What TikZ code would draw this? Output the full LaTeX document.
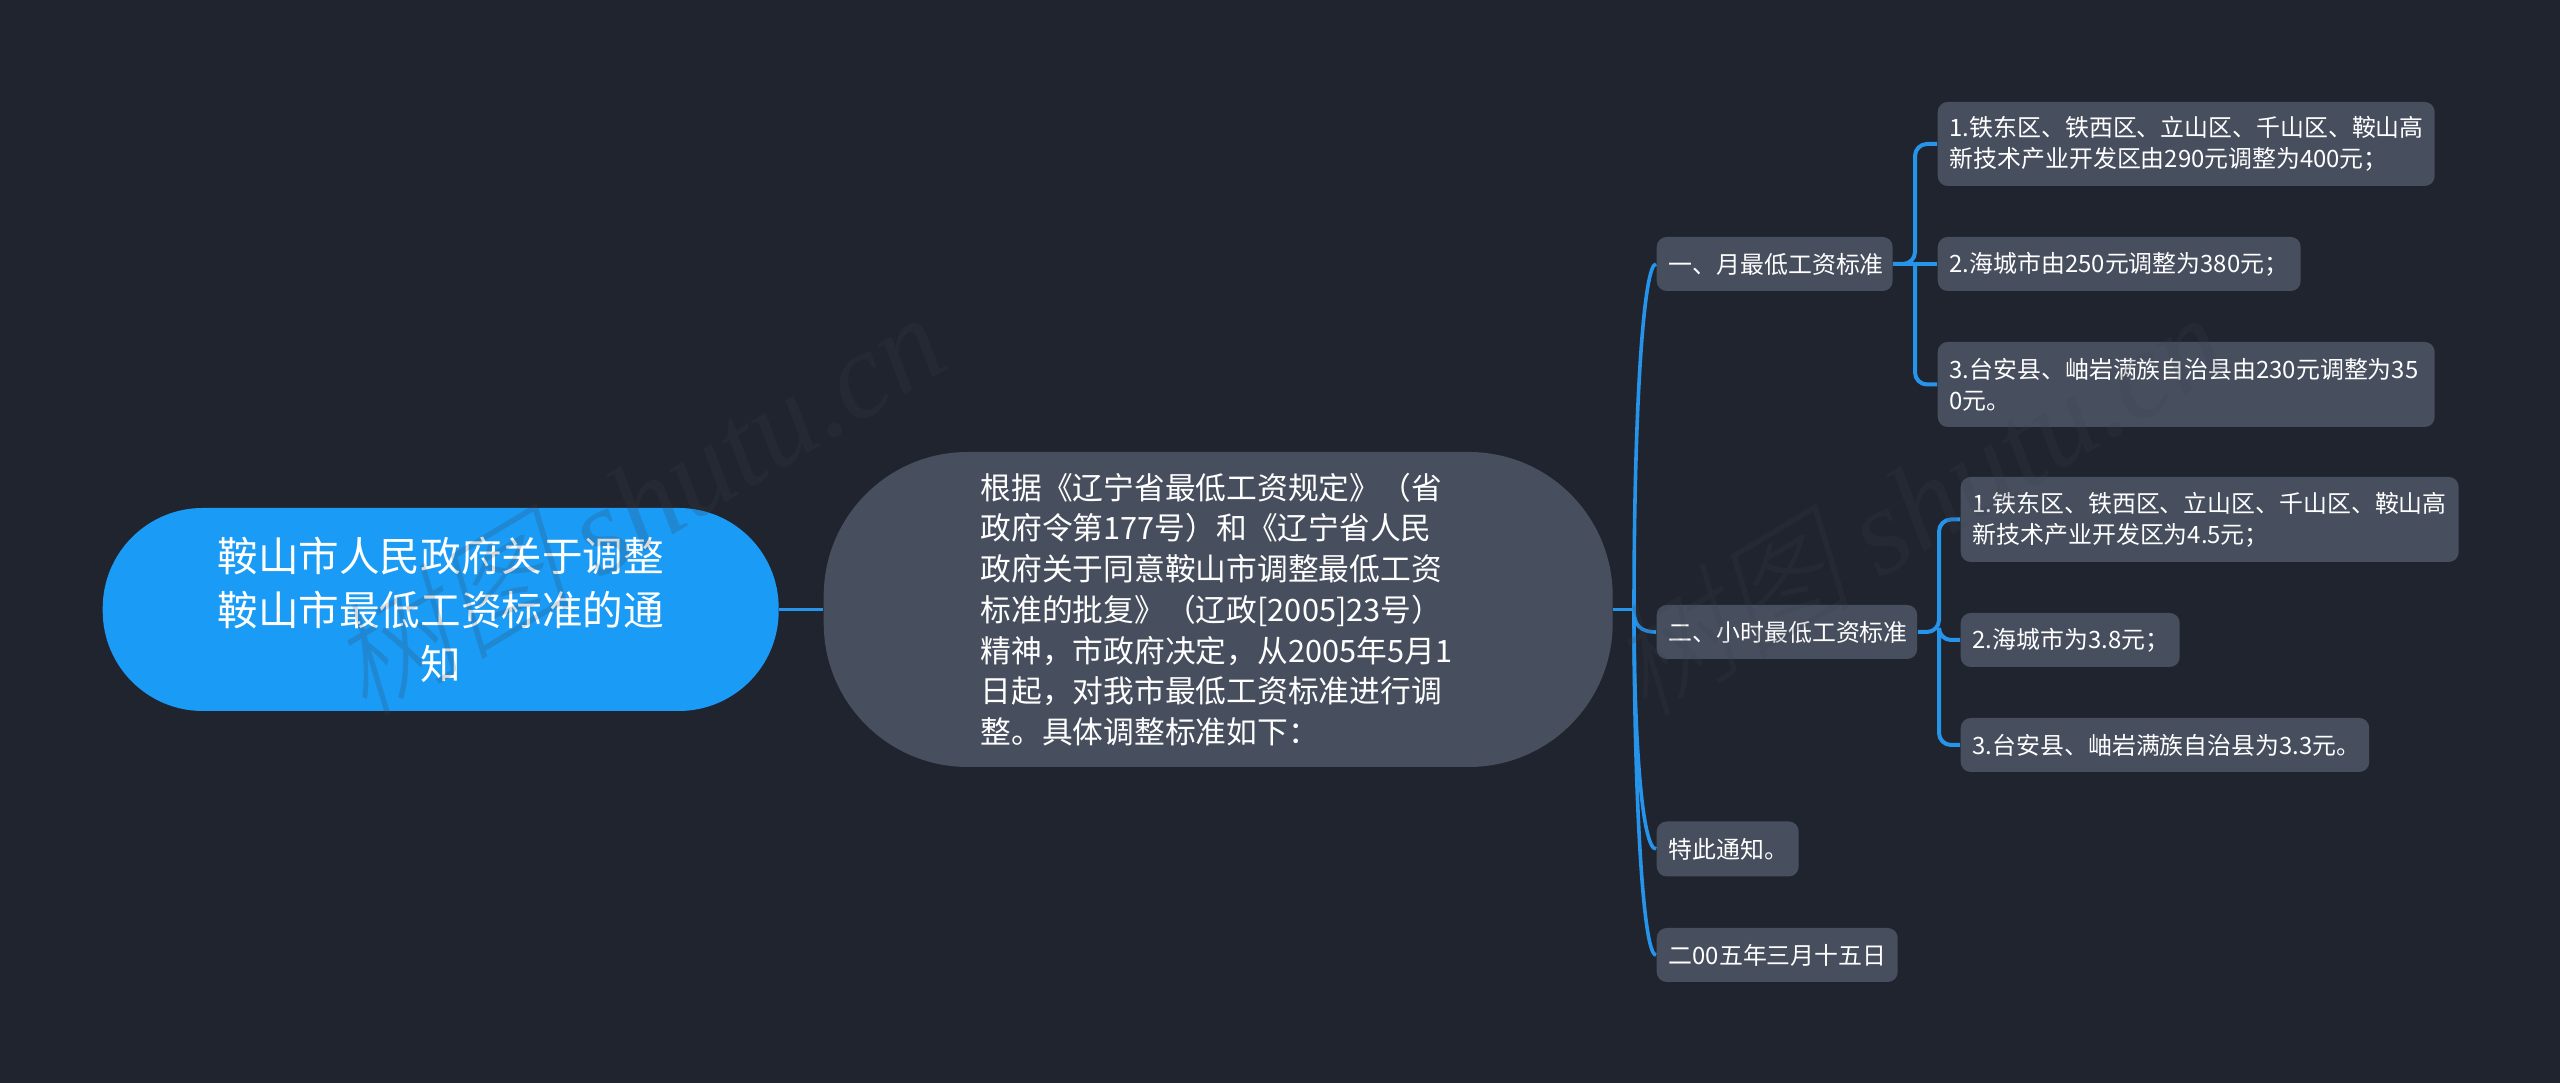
\documentclass[tikz,border=0pt]{standalone}
\usepackage{fontspec}
\setmainfont{Noto Sans CJK SC}
\newfontfamily\stampcjk[FakeSlant=0.25]{Noto Sans CJK SC Light}
\newfontfamily\stamplatin{Liberation Serif}
\definecolor{bgdark}{HTML}{20242F}
\definecolor{rootblue}{HTML}{1A9BF5}
\definecolor{boxgrey}{HTML}{474E5E}
\definecolor{linkblue}{HTML}{2594EA}
\definecolor{stampgrey}{HTML}{3A3F4A}
\tikzset{
  rootbox/.style={fill=rootblue,text=white,rounded corners=1cm,align=center,
    font=\fontsize{11.55pt}{15.4pt}\selectfont,inner sep=0pt,anchor=west},
  mainbox/.style={fill=boxgrey,text=white,rounded corners=1.44cm,align=left,
    font=\fontsize{8.75pt}{11.6pt}\selectfont,inner sep=0pt,anchor=west},
  leafbox/.style={fill=boxgrey,text=white,rounded corners=0.1cm,align=left,
    font=\fontsize{6.8pt}{8.9pt}\selectfont,inner ysep=0pt,inner xsep=0.12cm,anchor=west},
  link/.style={draw=linkblue,line width=0.04cm,rounded corners=0.12cm},
  curvelink/.style={draw=linkblue,line width=0.036cm},
  stamp/.style={font=\fontsize{35pt}{35pt}\selectfont,text=stampgrey,opacity=0.2,rotate=31,inner sep=0pt}
}
\begin{document}
\begin{tikzpicture}
  \fill[bgdark] (0,0) rectangle (25.6,10.83);
  \useasboundingbox (0,0) rectangle (25.6,10.83);

  \node[rootbox,text width=6.76cm,minimum height=2.03cm] (root) at (1.02,4.735) {鞍山市人民政府关于调整\\鞍山市最低工资标准的通\\知};
  \node[mainbox,text width=4.75cm,minimum height=3.15cm,inner xsep=1.57cm] (main) at (8.23,4.735)
    {根据《辽宁省最低工资规定》（省\\政府令第177号）和《辽宁省人民\\政府关于同意鞍山市调整最低工资\\标准的批复》（辽政[2005]23号）\\精神，市政府决定，从2005年5月1\\日起，对我市最低工资标准进行调\\整。具体调整标准如下：};

  \node[leafbox,text width=2.12cm,minimum height=0.54cm] (month) at (16.56,8.19) {一、月最低工资标准};
  \node[leafbox,text width=4.73cm,minimum height=0.84cm] (monthA) at (19.37,9.39) {1.铁东区、铁西区、立山区、千山区、鞍山高\\新技术产业开发区由290元调整为400元；};
  \node[leafbox,text width=3.39cm,minimum height=0.54cm] (monthB) at (19.37,8.19) {2.海城市由250元调整为380元；};
  \node[leafbox,text width=4.73cm,minimum height=0.85cm] (monthC) at (19.37,6.985) {3.台安县、岫岩满族自治县由230元调整为35\\0元。};

  \node[leafbox,text width=2.365cm,minimum height=0.54cm] (hour) at (16.56,4.51) {二、小时最低工资标准};
  \node[leafbox,text width=4.74cm,minimum height=0.85cm] (hourA) at (19.6,5.635) {1.铁东区、铁西区、立山区、千山区、鞍山高\\新技术产业开发区为4.5元；};
  \node[leafbox,text width=1.95cm,minimum height=0.54cm] (hourB) at (19.6,4.43) {2.海城市为3.8元；};
  \node[leafbox,text width=3.845cm,minimum height=0.54cm] (hourC) at (19.6,3.38) {3.台安县、岫岩满族自治县为3.3元。};

  \node[leafbox,text width=1.18cm,minimum height=0.55cm] (notice) at (16.56,2.34) {特此通知。};
  \node[leafbox,text width=2.17cm,minimum height=0.54cm] (datenote) at (16.56,1.28) {二00五年三月十五日};

  \coordinate (stem) at (16.34,4.735);
  \coordinate (monthfork) at (19.15,8.19);
  \coordinate (hourfork) at (19.39,4.51);

  \draw[curvelink] (root.east) -- (main.west);
  \draw[curvelink] (main.east) -- (stem);
  \draw[curvelink] (stem) .. controls (16.34,6.83) and (16.44,8.19) .. (month.west);
  \draw[curvelink] (stem) .. controls (16.34,4.58) and (16.40,4.51) .. (hour.west);
  \draw[curvelink] (stem) .. controls (16.34,3.43) and (16.42,2.34) .. (notice.west);
  \draw[curvelink] (stem) .. controls (16.34,3.03) and (16.42,1.28) .. (datenote.west);

  \draw[link] (month.east) -- (monthfork) |- (monthA.west);
  \draw[link] (month.east) -- (monthB.west);
  \draw[link] (monthfork) |- (monthC.west);

  \draw[link] (hour.east) -- (hourfork) |- (hourA.west);
  \draw[link] (hourfork) |- (hourB.west);
  \draw[link] (hourfork) |- (hourC.west);

  \node[stamp] (stampleft) at (6.35,5.8) {\stampcjk 树图 \stamplatin\itshape shutu.cn};
  \node[stamp] (stampright) at (19.15,5.8) {\stampcjk 树图 \stamplatin\itshape shutu.cn};
\end{tikzpicture}
\end{document}
